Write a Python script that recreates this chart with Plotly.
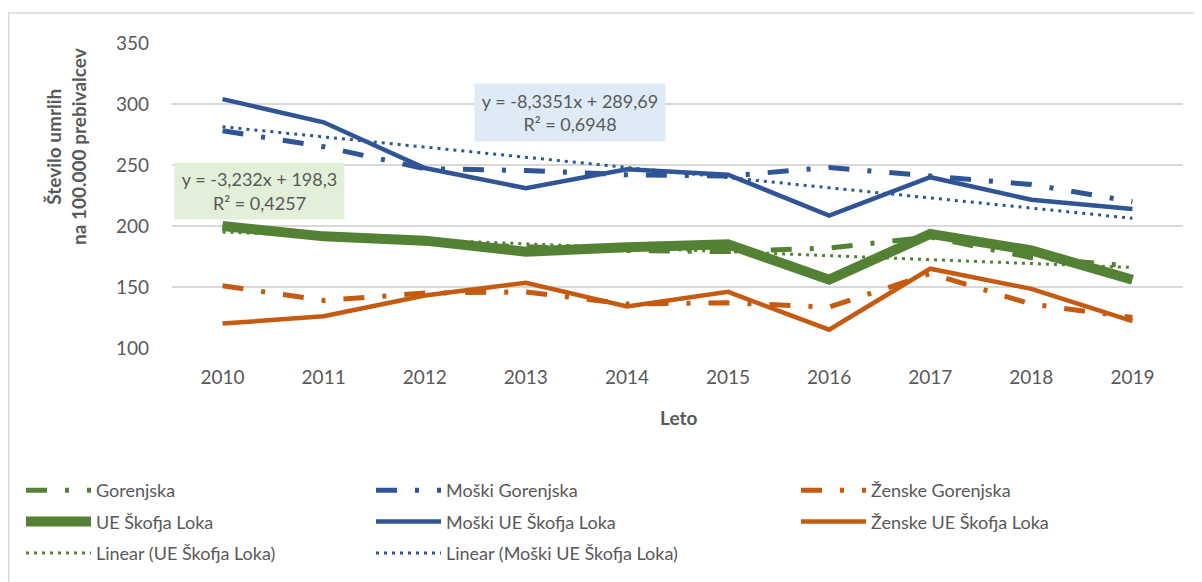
import plotly.graph_objects as go

years = [2010, 2011, 2012, 2013, 2014, 2015, 2016, 2017, 2018, 2019]
gorenjska = [199, 192, 186, 183, 180, 179, 182, 191, 174, 167]
moski_gorenjska = [278, 265, 247, 245.5, 242, 241, 248, 241, 234, 220]
zenske_gorenjska = [151, 139, 145, 146, 136, 137, 133.5, 161, 136, 125]
ue_skofja_loka = [200, 191.5, 188, 179, 182.5, 185, 156, 193.5, 180, 156]
moski_ue = [304, 285, 247.5, 231, 246.5, 242, 208.5, 240, 221.5, 214]
zenske_ue = [120, 126, 143, 153.5, 134, 146, 115, 165, 148.5, 122]

# Excel trendline equations (x = 1..10)
ue_trend_slope, ue_trend_int, ue_r2 = -3.232, 198.3, 0.4257
m_trend_slope, m_trend_int, m_r2 = -8.3351, 289.69, 0.6948

y_ticks = [100, 150, 200, 250, 300, 350]

GREEN = "#548235"
BLUE = "#2F5597"
ORANGE = "#C55A11"
TXT = "#595959"
FONT = "Lato"
DASHDOT = "21px,18px,4px,18px"
DOT = "3px,5px"

idx = list(range(1, len(years) + 1))
ue_trend = [ue_trend_slope * i + ue_trend_int for i in idx]
m_trend = [m_trend_slope * i + m_trend_int for i in idx]

fig = go.Figure()

def add(name, y, color, width, dash, legend, group):
    fig.add_trace(go.Scatter(
        x=years, y=y, name=name, mode="lines",
        line=dict(color=color, width=width, dash=dash),
        legend=legend, legendgroup=group, hoverinfo="skip"))

add("Gorenjska", gorenjska, GREEN, 5, DASHDOT, "legend", "g1")
add("Moški Gorenjska", moski_gorenjska, BLUE, 5, DASHDOT, "legend2", "g2")
add("Ženske Gorenjska", zenske_gorenjska, ORANGE, 5, DASHDOT, "legend3", "g3")
add("UE Škofja Loka", ue_skofja_loka, GREEN, 10, "solid", "legend", "g4")
add("Moški UE Škofja Loka", moski_ue, BLUE, 4.5, "solid", "legend2", "g5")
add("Ženske UE Škofja Loka", zenske_ue, ORANGE, 4.5, "solid", "legend3", "g6")
add("Linear (UE Škofja Loka)", ue_trend, GREEN, 3, DOT, "legend", "g7")
add("Linear (Moški UE Škofja Loka)", m_trend, BLUE, 3, DOT, "legend2", "g8")

# page has an 8px body margin, so the figure is 8px smaller than the window
OFF = 8
W, H = 1202 - OFF, 582 - OFF
L, R, T, B = 172 - OFF, 19, 43 - OFF, 234
pw, ph = W - L - R, H - T - B

def px_x(px):  # page pixel -> paper
    return (px - OFF - L) / pw

def px_y(py):  # page pixel -> paper
    return (H - B - (py - OFF)) / ph

leg_common = dict(
    orientation="v", xanchor="left", yanchor="top",
    font=dict(family=FONT, size=18, color=TXT),
    bgcolor="rgba(0,0,0,0)", itemwidth=65, traceorder="grouped",
    tracegroupgap=5, itemclick=False, itemdoubleclick=False)

fig.update_layout(
    width=W, height=H,
    margin=dict(l=L, r=R, t=T, b=B, autoexpand=False),
    paper_bgcolor="white", plot_bgcolor="white",
    font=dict(family=FONT, size=18, color=TXT),
    showlegend=True,
    legend=dict(x=px_x(21), y=px_y(472), **leg_common),
    legend2=dict(x=px_x(371), y=px_y(472), **leg_common),
    legend3=dict(x=px_x(796), y=px_y(472), **leg_common),
    xaxis=dict(
        range=[2009.5, 2019.5], tickvals=years, ticktext=[str(y) for y in years],
        showgrid=False, zeroline=False, showline=False, ticks="",
        tickfont=dict(family=FONT, size=19, color=TXT), ticklabelstandoff=16,
        fixedrange=True, automargin=False),
    yaxis=dict(
        range=[100, 350], tickvals=y_ticks, showgrid=True, gridcolor="#D9D9D9",
        gridwidth=1.5, zeroline=False, showline=False, ticks="",
        tickfont=dict(family=FONT, size=19, color=TXT), ticklabelstandoff=22,
        fixedrange=True, automargin=False),
)

fig.add_shape(type="rect", xref="paper", yref="paper",
              x0=px_x(8.75), x1=px_x(1215), y0=px_y(600), y1=px_y(13),
              line=dict(color="#D9D9D9", width=1.5), fillcolor="rgba(0,0,0,0)",
              layer="below")

def fmt(v, d):
    return f"{v:.{d}f}".replace(".", ",")

fig.add_annotation(
    xref="paper", yref="paper", x=px_x(570), y=px_y(112.5),
    xanchor="center", yanchor="middle",
    text=f"y = {fmt(m_trend_slope, 4)}x + {fmt(m_trend_int, 2)}<br>R² = {fmt(m_r2, 4)}",
    showarrow=False, bgcolor="#DEEBF7", width=182, height=49, borderpad=4,
    font=dict(family=FONT, size=18, color=TXT), align="center")

fig.add_annotation(
    xref="paper", yref="paper", x=px_x(259.5), y=px_y(191.3),
    xanchor="center", yanchor="middle",
    text=f"y = {fmt(ue_trend_slope, 3)}x + {fmt(ue_trend_int, 1)}<br>R² = {fmt(ue_r2, 4)}",
    showarrow=False, bgcolor="#E2F0D9", width=161, height=48, borderpad=4,
    font=dict(family=FONT, size=18, color=TXT), align="center")

fig.add_annotation(
    xref="paper", yref="paper", x=px_x(66), y=px_y(147),
    xanchor="center", yanchor="middle", textangle=-90,
    text="<b>Število umrlih</b><br><b>na 100.000 prebivalcev</b>",
    showarrow=False, font=dict(family=FONT, size=19, color=TXT), align="center")

fig.add_annotation(
    xref="paper", yref="paper", x=px_x(678), y=px_y(417),
    xanchor="center", yanchor="middle",
    text="<b>Leto</b>", showarrow=False,
    font=dict(family=FONT, size=19, color=TXT))

fig.write_html("out.html")
